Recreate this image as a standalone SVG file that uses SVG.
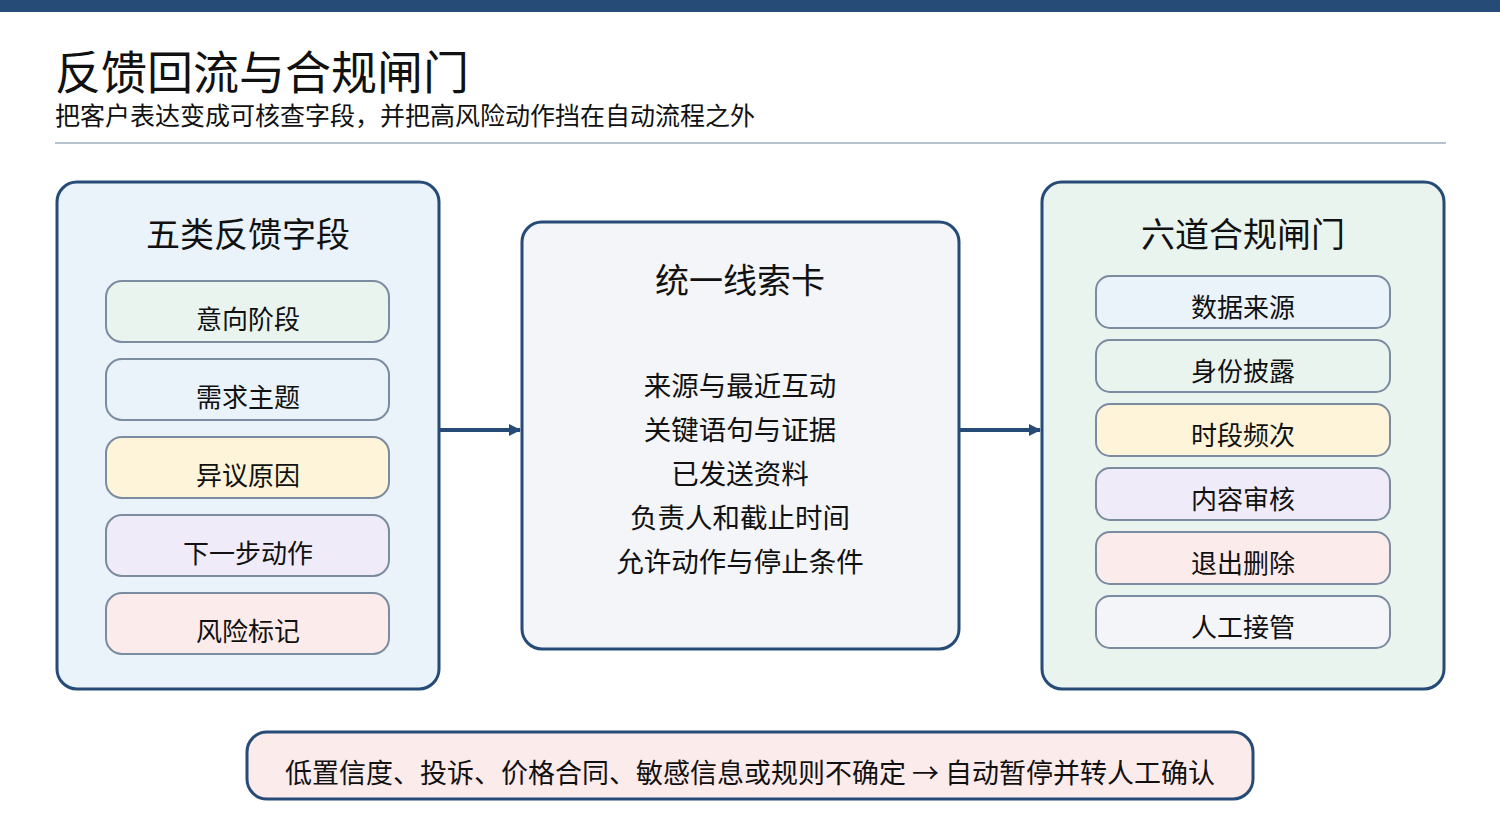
<svg xmlns="http://www.w3.org/2000/svg" width="1500" height="820" viewBox="0 0 1500 820">
<style>
text{font-family:"Noto Sans CJK SC","Noto Sans",sans-serif;fill:#111;text-anchor:middle}
.panel{stroke:#264b77;stroke-width:3}
.item{stroke:#7b8ba0;stroke-width:2}
.it{font-size:26px}
.pt{font-size:34px}
.ct{font-size:27.5px}
</style>
<defs><marker id="ah" markerWidth="12" markerHeight="12" refX="11" refY="6" orient="auto" markerUnits="userSpaceOnUse"><path d="M0,0L12,6L0,12z" fill="#264b77"/></marker></defs>
<rect width="1500" height="820" fill="#fff"/>
<rect width="1500" height="12" fill="#264b77"/>
<text x="55" y="89" style="font-size:46px;text-anchor:start">反馈回流与合规闸门</text>
<text x="55" y="125" style="font-size:25px;text-anchor:start">把客户表达变成可核查字段，并把高风险动作挡在自动流程之外</text>
<line x1="55" y1="143" x2="1446" y2="143" stroke="#b8c2cf" stroke-width="2"/>
<g id="left">
<rect class="panel" x="57" y="182" width="382" height="507" rx="20" fill="#eaf2fa"/>
<text class="pt" x="248" y="247">五类反馈字段</text>
<rect class="item" x="106" y="281" width="283" height="61" rx="16" fill="#eaf4ef"/><text class="it" x="248" y="329">意向阶段</text>
<rect class="item" x="106" y="359" width="283" height="61" rx="16" fill="#eaf2fa"/><text class="it" x="248" y="407">需求主题</text>
<rect class="item" x="106" y="437" width="283" height="61" rx="16" fill="#fdf4d9"/><text class="it" x="248" y="485">异议原因</text>
<rect class="item" x="106" y="515" width="283" height="61" rx="16" fill="#f0ebf8"/><text class="it" x="248" y="563">下一步动作</text>
<rect class="item" x="106" y="593" width="283" height="61" rx="16" fill="#fcebeb"/><text class="it" x="248" y="641">风险标记</text>
</g>
<g id="center">
<rect class="panel" x="522" y="222" width="437" height="427" rx="20" fill="#f3f5f8"/>
<text class="pt" x="740" y="293">统一线索卡</text>
<text class="ct" x="740" y="396">来源与最近互动</text>
<text class="ct" x="740" y="440">关键语句与证据</text>
<text class="ct" x="740" y="484">已发送资料</text>
<text class="ct" x="740" y="528">负责人和截止时间</text>
<text class="ct" x="740" y="572">允许动作与停止条件</text>
</g>
<g id="right">
<rect class="panel" x="1042" y="182" width="402" height="507" rx="20" fill="#eaf4ef"/>
<text class="pt" x="1243" y="247">六道合规闸门</text>
<rect class="item" x="1096" y="276" width="294" height="52" rx="14" fill="#eaf2fa"/><text class="it" x="1243" y="317">数据来源</text>
<rect class="item" x="1096" y="340" width="294" height="52" rx="14" fill="#eaf4ef"/><text class="it" x="1243" y="381">身份披露</text>
<rect class="item" x="1096" y="404" width="294" height="52" rx="14" fill="#fdf4d9"/><text class="it" x="1243" y="445">时段频次</text>
<rect class="item" x="1096" y="468" width="294" height="52" rx="14" fill="#f0ebf8"/><text class="it" x="1243" y="509">内容审核</text>
<rect class="item" x="1096" y="532" width="294" height="52" rx="14" fill="#fcebeb"/><text class="it" x="1243" y="573">退出删除</text>
<rect class="item" x="1096" y="596" width="294" height="52" rx="14" fill="#f3f5f8"/><text class="it" x="1243" y="637">人工接管</text>
</g>
<g id="connectors" stroke="#264b77" stroke-width="4" fill="none">
<line x1="440" y1="430" x2="520" y2="430" marker-end="url(#ah)"/>
<line x1="960" y1="430" x2="1040" y2="430" marker-end="url(#ah)"/>
</g>
<g id="banner">
<rect x="247" y="732" width="1006" height="67" rx="20" fill="#fcebeb" stroke="#264b77" stroke-width="3"/>
<text x="750" y="783" style="font-size:27px">低置信度、投诉、价格合同、敏感信息或规则不确定 → 自动暂停并转人工确认</text>
</g>
</svg>
